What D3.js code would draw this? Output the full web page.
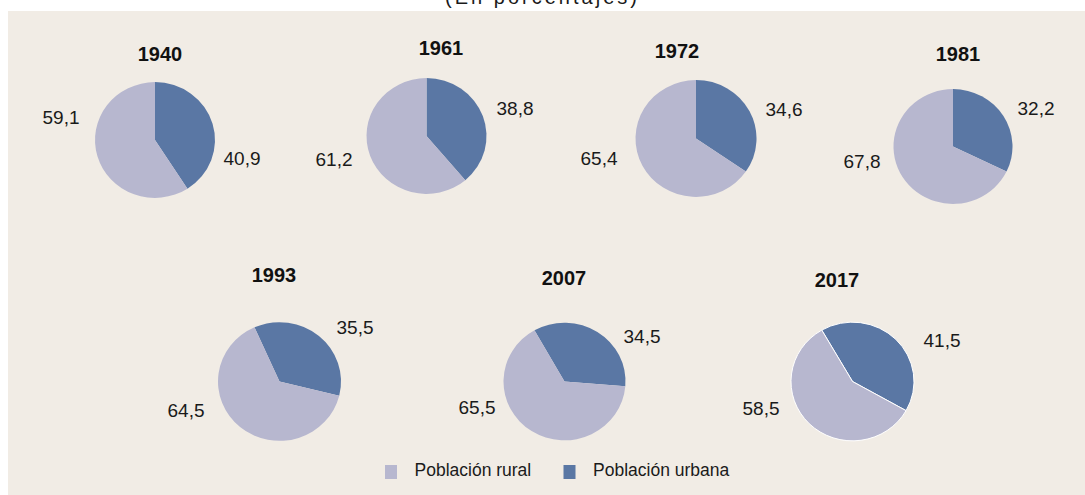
<!DOCTYPE html>
<html>
<head>
<meta charset="utf-8">
<script src="https://cdn.jsdelivr.net/npm/d3@7"></script>
<style>
  html, body { margin: 0; padding: 0; background: #fff; }
  svg { display: block; font-family: "Liberation Sans", Arial, sans-serif; }
</style>
</head>
<body>
<svg id="chart"></svg>
<script>
// Data
const years = ['1940', '1961', '1972', '1981', '1993', '2007', '2017'];
const urbana = [40.9, 38.8, 34.6, 32.2, 35.5, 34.5, 41.5];
const rural = [59.1, 61.2, 65.4, 67.8, 64.5, 65.5, 58.5];
const seriesNames = ['Población urbana', 'Población rural'];
const subtitle = '(En porcentajes)';

const WIDTH = 1085;
const HEIGHT = 495;
const colors = { urbana: '#5a77a4', rural: '#b7b7cf', bg: '#f1ece5', text: '#1a1a1a' };

// Layout: centre, radius, rotation of first slice, title and label anchors
const layout = [
  { cx: 155,   cy: 140,   r: 60,   rot: 0,     title: [160, 61],    urb: [242, 165], rur: [61, 124] },
  { cx: 426.5, cy: 136,   r: 60,   rot: 0,     title: [441, 55],    urb: [515, 115], rur: [334, 166] },
  { cx: 696,   cy: 138.5, r: 60.5, rot: 0,     title: [677, 58],    urb: [784, 116], rur: [599, 165] },
  { cx: 953,   cy: 146.5, r: 59.5, rot: 0,     title: [958, 61],    urb: [1036, 115], rur: [862, 168] },
  { cx: 279.5, cy: 381.5, r: 61.5, rot: -24,   title: [274, 282],   urb: [355, 334], rur: [186, 417] },
  { cx: 564.5, cy: 381.5, r: 61,   rot: -29.5, title: [564, 285],   urb: [642, 343], rur: [477, 414] },
  { cx: 852.5, cy: 381.5, r: 61.5, rot: -30,   title: [837, 287],   urb: [942, 347], rur: [761, 415], sep: true }
];
const Y_SQUASH = 0.965;

const svg = d3.select('#chart')
  .attr('width', WIDTH)
  .attr('height', HEIGHT);

// Panel background
svg.append('rect')
  .attr('x', 8)
  .attr('y', 11)
  .attr('width', WIDTH - 8)
  .attr('height', HEIGHT - 11)
  .style('fill', colors.bg);

// Clipped subtitle at the very top
svg.append('text')
  .attr('x', 541)
  .attr('y', 4)
  .attr('text-anchor', 'middle')
  .attr('textLength', 192)
  .attr('lengthAdjust', 'spacing')
  .style('font-size', '20px')
  .style('fill', colors.text)
  .text(subtitle);

const fmt = v => v.toFixed(1).replace('.', ',');

years.forEach((year, i) => {
  const L = layout[i];
  const rows = [
    { key: 'urbana', value: urbana[i] },
    { key: 'rural', value: rural[i] }
  ];
  const start = L.rot * Math.PI / 180;
  const pie = d3.pie()
    .sort(null)
    .value(d => d.value)
    .startAngle(start)
    .endAngle(start + 2 * Math.PI);
  const arc = d3.arc().innerRadius(0).outerRadius(L.r);

  const g = svg.append('g')
    .attr('class', 'pie')
    .attr('transform', `translate(${L.cx}, ${L.cy}) scale(1, ${Y_SQUASH})`);

  g.selectAll('path')
    .data(pie(rows))
    .enter()
    .append('path')
    .attr('d', arc)
    .style('fill', d => colors[d.data.key])
    .style('stroke', L.sep ? '#ffffff' : 'none')
    .style('stroke-width', L.sep ? 1 : 0);

  // Year title
  svg.append('text')
    .attr('x', L.title[0])
    .attr('y', L.title[1])
    .attr('text-anchor', 'middle')
    .style('font-size', '20px')
    .style('font-weight', 'bold')
    .style('fill', '#111')
    .text(year);

  // Value labels
  svg.append('text')
    .attr('x', L.urb[0])
    .attr('y', L.urb[1])
    .attr('text-anchor', 'middle')
    .style('font-size', '19px')
    .style('fill', colors.text)
    .text(fmt(urbana[i]));

  svg.append('text')
    .attr('x', L.rur[0])
    .attr('y', L.rur[1])
    .attr('text-anchor', 'middle')
    .style('font-size', '19px')
    .style('fill', colors.text)
    .text(fmt(rural[i]));
});

// Legend
const legendItems = [
  { name: seriesNames[1], color: colors.rural, x: 385 },
  { name: seriesNames[0], color: colors.urbana, x: 563.5 }
];
const legend = svg.append('g').attr('class', 'legend');
legendItems.forEach(item => {
  legend.append('rect')
    .attr('x', item.x)
    .attr('y', 465)
    .attr('width', 12)
    .attr('height', 14)
    .style('fill', item.color);
  legend.append('text')
    .attr('x', item.x + 29.5)
    .attr('y', 476)
    .style('font-size', '17.5px')
    .style('fill', colors.text)
    .text(item.name);
});
</script>
</body>
</html>
